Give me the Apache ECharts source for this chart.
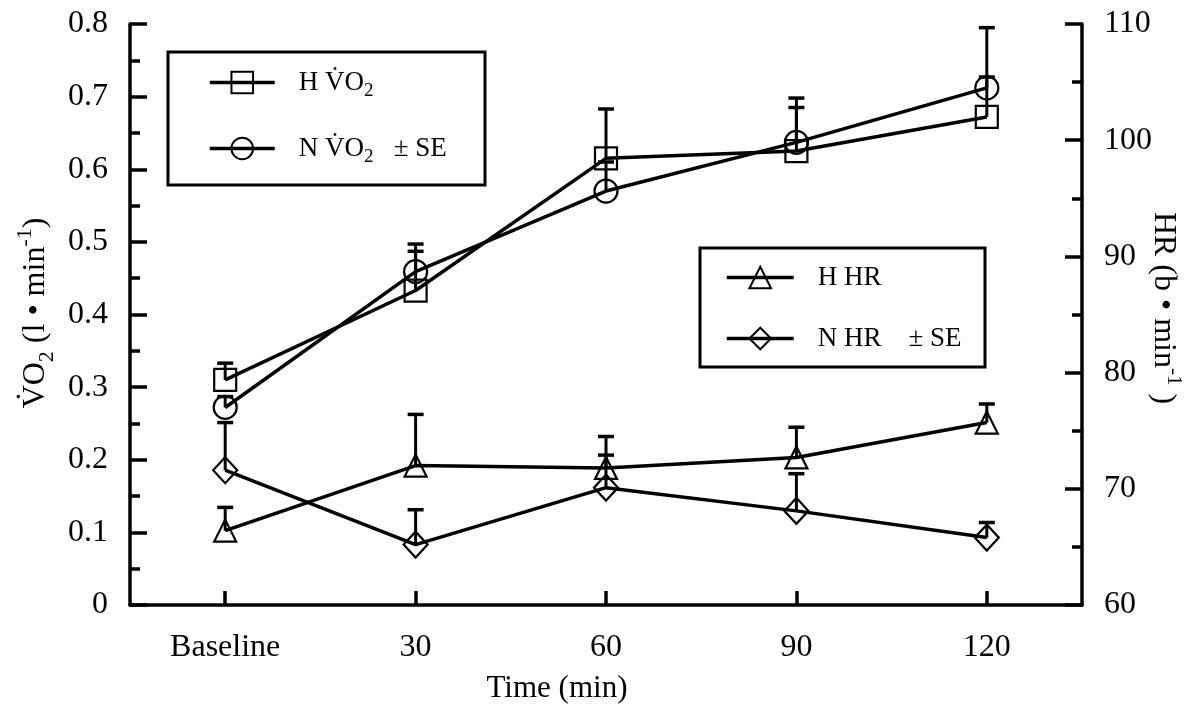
<!DOCTYPE html>
<html>
<head>
<meta charset="utf-8">
<script src="https://cdn.jsdelivr.net/npm/echarts@6/dist/echarts.min.js"></script>
<style>
  html, body { margin: 0; padding: 0; background: #fff; }
  #chart { width: 1193px; height: 706px; }
</style>
</head>
<body>
<div id="chart"></div>
<script>
// time points
const categories = ['Baseline', '30', '60', '90', '120']

// VO2 (l/min), left axis
const hVo2 = [0.31, 0.433, 0.615, 0.625, 0.672]
const hVo2Se = [0.023, 0.054, 0.068, 0.06, 0.055]
const nVo2 = [0.272, 0.459, 0.57, 0.637, 0.712]
const nVo2Se = [0.015, 0.038, 0.04, 0.061, 0.083]

// HR (b/min), right axis
const hHr = [66.4, 72.0, 71.8, 72.7, 75.7]
const hHrSe = [2.0, 4.4, 2.7, 2.6, 1.6]
const nHr = [71.6, 65.2, 70.1, 68.1, 65.8]
const nHrSe = [4.1, 3.0, 2.8, 3.2, 1.3]

const vo2Ticks = { min: 0, max: 0.8, interval: 0.1 }
const hrTicks = { min: 60, max: 110, interval: 10 }

const FONT = "'Liberation Serif', 'Times New Roman', serif"
const BLACK = '#000'

// sub / superscript pieces for rich text, nudged with negative padding
function scripts(size, shift) {
  return {
    sub: { fontFamily: FONT, fontSize: size, color: BLACK, verticalAlign: 'bottom', padding: [0, 0, -shift, 0] },
    sup: { fontFamily: FONT, fontSize: size, color: BLACK, verticalAlign: 'top', padding: [-shift, 0, 0, 0] },
  }
}

const legendLabels = {
  'H VO2': 'H V\u0307O{sub|2}',
  'N VO2': 'N V\u0307O{sub|2}   \u00b1 SE',
  'H HR': 'H HR',
  'N HR': 'N HR    \u00b1 SE',
}

function lineSeries(name, values, symbol, size, yAxisIndex) {
  return {
    name,
    type: 'line',
    yAxisIndex,
    data: values,
    symbol,
    symbolSize: size,
    z: 3,
    lineStyle: { color: BLACK, width: 3.5 },
    itemStyle: { color: 'transparent', borderColor: BLACK, borderWidth: 2.2 },
    emphasis: { disabled: true },
  }
}

function errorSeries(values, se, yAxisIndex) {
  return {
    type: 'custom',
    yAxisIndex,
    silent: true,
    z: 2,
    data: values.map((v, i) => [i, v, v + se[i]]),
    renderItem(params, api) {
      const base = api.coord([api.value(0), api.value(1)])
      const top = api.coord([api.value(0), api.value(2)])
      return {
        type: 'group',
        children: [
          { type: 'line', shape: { x1: base[0], y1: base[1], x2: top[0], y2: top[1] }, style: { stroke: BLACK, lineWidth: 3 } },
          { type: 'line', shape: { x1: top[0] - 8, y1: top[1], x2: top[0] + 8, y2: top[1] }, style: { stroke: BLACK, lineWidth: 3.5 } },
        ],
      }
    },
  }
}

function valueAxis(ticks, position) {
  return {
    type: 'value',
    position,
    min: ticks.min,
    max: ticks.max,
    interval: ticks.interval,
    axisLine: { show: true, lineStyle: { color: BLACK, width: 3.5 } },
    axisTick: { show: true, inside: true, length: 17, lineStyle: { color: BLACK, width: 3.5 } },
    minorTick: { show: true, splitNumber: 2, length: 10, lineStyle: { color: BLACK, width: 3.5 } },
    splitLine: { show: false },
    axisLabel: { fontFamily: FONT, fontSize: 32, color: BLACK, margin: 22 },
  }
}

function legendBlock(names, left, top, itemWidth, gap) {
  return {
    data: names,
    orient: 'vertical',
    left,
    top,
    padding: 0,
    itemWidth,
    itemHeight: 27,
    itemGap: gap,
    selectedMode: false,
    lineStyle: { width: 3.5 },
    formatter: name => legendLabels[name],
    textStyle: {
      fontFamily: FONT,
      fontSize: 27,
      color: BLACK,
      padding: [0, 0, 0, 19],
      rich: scripts(19, 5),
    },
  }
}

const chart = echarts.init(document.getElementById('chart'))

chart.setOption({
  backgroundColor: '#fff',
  animation: false,
  grid: { left: 130, right: 111, top: 24, bottom: 101 },
  xAxis: {
    type: 'category',
    data: categories,
    boundaryGap: true,
    axisLine: { lineStyle: { color: BLACK, width: 3.5 } },
    axisTick: { show: true, interval: 0, alignWithLabel: true, inside: true, length: 14, lineStyle: { color: BLACK, width: 3.5 } },
    axisLabel: { fontFamily: FONT, fontSize: 32, color: BLACK, margin: 27 },
  },
  yAxis: [valueAxis(vo2Ticks, 'left'), valueAxis(hrTicks, 'right')],
  legend: [
    legendBlock(['H VO2', 'N VO2'], 208, 69, 65, 34),
    legendBlock(['H HR', 'N HR'], 725, 264, 67, 34),
  ],
  graphic: [
    { type: 'rect', shape: { x: 168, y: 52, width: 317, height: 133 }, style: { fill: 'none', stroke: BLACK, lineWidth: 3 } },
    { type: 'rect', shape: { x: 700, y: 248, width: 285, height: 119 }, style: { fill: 'none', stroke: BLACK, lineWidth: 3 } },
    {
      type: 'text', x: 36, y: 313, rotation: Math.PI / 2,
      style: {
        text: 'V\u0307O{sub|2} (l \u2022 min{sup|-1})',
        font: '32px ' + FONT, fill: BLACK, align: 'center', verticalAlign: 'middle',
        rich: scripts(22, 6),
      },
    },
    {
      type: 'text', x: 1163, y: 308, rotation: -Math.PI / 2,
      style: {
        text: 'HR (b \u2022 min{sup|-1} )',
        font: '32px ' + FONT, fill: BLACK, align: 'center', verticalAlign: 'middle',
        rich: scripts(21, 5),
      },
    },
    {
      type: 'text', x: 557, y: 689,
      style: { text: 'Time (min)', font: '31px ' + FONT, fill: BLACK, align: 'center', verticalAlign: 'middle' },
    },
  ],
  series: [
    errorSeries(hVo2, hVo2Se, 0),
    errorSeries(nVo2, nVo2Se, 0),
    errorSeries(hHr, hHrSe, 1),
    errorSeries(nHr, nHrSe, 1),
    lineSeries('H VO2', hVo2, 'rect', 22, 0),
    lineSeries('N VO2', nVo2, 'circle', 23, 0),
    lineSeries('H HR', hHr, 'triangle', 22, 1),
    lineSeries('N HR', nHr, 'diamond', [24, 26], 1),
  ],
})
</script>
</body>
</html>
